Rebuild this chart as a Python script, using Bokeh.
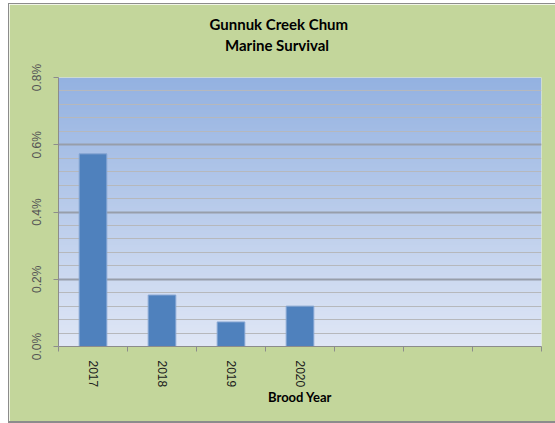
import numpy as np
from bokeh.plotting import figure
from bokeh.layouts import row, column
from bokeh.models import Range1d, FixedTicker, NumeralTickFormatter, Title, Spacer
from bokeh.embed import file_html
from bokeh.resources import INLINE

# ---- data ----
title_lines = ["Gunnuk Creek Chum", "Marine Survival"]
x_title = "Brood Year"
years = ["2017", "2018", "2019", "2020"]
n_slots = 7  # category slots on the axis (3 empty)
survival = [0.00573, 0.00153, 0.00073, 0.00120]
y_ticks = [0.0, 0.002, 0.004, 0.006, 0.008]
y_minor_step = 0.0004
y_max = 0.008

GREEN = "#c3d69b"
EDGE = "#8c8c8c"

W, H = 546, 417
p = figure(width=W, height=H, output_backend="svg", toolbar_location=None,
           x_range=Range1d(0, n_slots), y_range=Range1d(0, y_max),
           min_border_left=49, min_border_right=14,
           min_border_top=73, min_border_bottom=75)
p.border_fill_color = GREEN
p.background_fill_color = None
p.outline_line_color = None

# gradient plot-area background
n = 200
t = np.linspace(0, 1, n)[:, None]
bot_c = np.array([224, 231, 246])
top_c = np.array([148, 178, 225])
rgb = bot_c + (top_c - bot_c) * t
img = np.empty((n, 1), dtype=np.uint32)
view = img.view(dtype=np.uint8).reshape((n, 1, 4))
view[..., 0] = rgb[:, 0:1].astype(np.uint8)
view[..., 1] = rgb[:, 1:2].astype(np.uint8)
view[..., 2] = rgb[:, 2:3].astype(np.uint8)
view[..., 3] = 255
p.image_rgba(image=[img], x=0, y=0, dw=n_slots, dh=y_max, level="image")

centers = [i + 0.5 for i in range(len(years))]
p.vbar(x=centers, top=survival, bottom=0, width=0.4,
       fill_color="#4f81bd", line_color="#85a5d3", line_width=1)

# x axis
all_centers = [i + 0.5 for i in range(n_slots)]
p.xaxis.ticker = FixedTicker(ticks=all_centers, minor_ticks=list(range(n_slots + 1)))
p.xaxis.major_label_overrides = {c: (years[i] if i < len(years) else "")
                                 for i, c in enumerate(all_centers)}
p.xaxis.major_tick_out = 0
p.xaxis.major_tick_in = 0
p.xaxis.minor_tick_out = 5
p.xaxis.minor_tick_in = 0
p.xaxis.minor_tick_line_color = EDGE
p.xaxis.axis_line_color = EDGE
p.xaxis.major_label_orientation = "vertical"
p.xaxis.major_label_text_font = "Liberation Sans"
p.xaxis.major_label_text_font_size = "12px"
p.xaxis.major_label_text_color = "#1a1a1a"
p.xaxis.major_label_standoff = 9
p.xaxis.axis_label = x_title
p.xaxis.axis_label_text_font = "Lato"
p.xaxis.axis_label_text_font_style = "bold"
p.xaxis.axis_label_text_font_size = "13px"
p.xaxis.axis_label_text_color = "#000000"
p.xaxis.axis_label_standoff = -1
p.xgrid.visible = False

# y axis
minor = [round(i * y_minor_step, 6) for i in range(int(round(y_max / y_minor_step)) + 1)]
p.yaxis.ticker = FixedTicker(ticks=y_ticks, minor_ticks=minor)
p.yaxis.formatter = NumeralTickFormatter(format="0.0%")
p.yaxis.major_tick_out = 5
p.yaxis.major_tick_in = 0
p.yaxis.minor_tick_out = 0
p.yaxis.minor_tick_in = 0
p.yaxis.major_tick_line_color = EDGE
p.yaxis.axis_line_color = EDGE
p.yaxis.major_label_orientation = "vertical"
p.yaxis.major_label_text_font = "Liberation Sans"
p.yaxis.major_label_text_font_size = "12px"
p.yaxis.major_label_text_color = "#555555"
p.yaxis.major_label_standoff = 10
p.ygrid.grid_line_color = "#979eaa"
p.ygrid.grid_line_width = 2
p.ygrid.minor_grid_line_color = "#b6b8bc"
p.ygrid.minor_grid_line_width = 1

# title: two lines (first added sits closest to the frame), plus a blank gap
p.title.text = ""
p.add_layout(Title(text=" ", text_font_size="1px", standoff=20), "above")
for txt, off, so in zip(reversed(title_lines), [166.5, 151.0], [2, 0]):
    p.add_layout(Title(text=txt, align="left", offset=off, standoff=so,
                       text_font="Lato", text_font_style="bold",
                       text_font_size="15px", text_color="#000000"), "above")

def bar(w, h, color=None):
    s = Spacer(width=w, height=h)
    if color:
        s.styles = {"background-color": color}
    return s

right = column(bar(547, 3), bar(547, 1, EDGE),
               row(bar(1, H, EDGE), p),
               bar(547, 2, EDGE))
layout = row(bar(8, 423), right)

open("out.html", "w").write(file_html(layout, INLINE))
